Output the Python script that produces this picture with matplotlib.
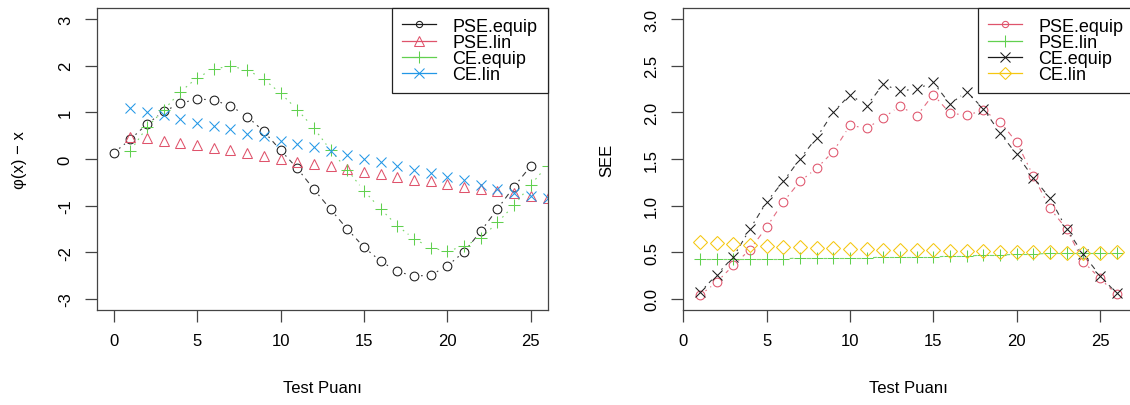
import numpy as np
import matplotlib
matplotlib.use("Agg")
import matplotlib.pyplot as plt
from matplotlib.lines import Line2D

plt.rcParams['font.family'] = ['Liberation Sans', 'DejaVu Sans']
plt.rcParams['font.size'] = 12
plt.rcParams['axes.unicode_minus'] = False

# R palette colours
BLACK = '#1a1a1a'
RED = '#DF536B'
GREEN = '#61D04F'
BLUE = '#2297E6'
YELLOW = '#F5C710'

# ---- left panel: phi(x) - x ----
score_equip_l = list(range(0, 26))
score_l = list(range(1, 27))
pse_equip_l = [0.13, 0.42, 0.75, 1.02, 1.19, 1.29, 1.26, 1.14, 0.91, 0.59, 0.19, -0.20, -0.65,
               -1.08, -1.50, -1.89, -2.19, -2.41, -2.51, -2.49, -2.29, -1.99, -1.55, -1.07, -0.59, -0.15]
pse_lin_l = [0.48, 0.44, 0.38, 0.34, 0.29, 0.24, 0.19, 0.13, 0.07, 0.01, -0.06, -0.10, -0.14,
             -0.22, -0.27, -0.32, -0.38, -0.44, -0.48, -0.54, -0.59, -0.64, -0.68, -0.73, -0.79, -0.84]
ce_equip_l = [0.18, 0.68, 1.05, 1.44, 1.74, 1.93, 1.99, 1.91, 1.71, 1.41, 1.06, 0.66, 0.19,
              -0.23, -0.68, -1.07, -1.43, -1.71, -1.90, -1.98, -1.86, -1.70, -1.36, -0.99, -0.55, -0.14]
ce_lin_l = [1.09, 1.01, 0.94, 0.86, 0.78, 0.71, 0.64, 0.54, 0.50, 0.39, 0.32, 0.25, 0.18,
            0.09, -0.01, -0.06, -0.14, -0.24, -0.31, -0.38, -0.46, -0.55, -0.64, -0.73, -0.79, -0.84]

# ---- right panel: SEE ----
score_r = list(range(1, 27))
pse_equip_r = [0.04, 0.18, 0.36, 0.53, 0.77, 1.04, 1.26, 1.40, 1.58, 1.86, 1.83, 1.94, 2.07,
               1.96, 2.19, 1.99, 1.97, 2.02, 1.90, 1.68, 1.32, 0.97, 0.75, 0.40, 0.22, 0.05]
pse_lin_r = [0.43, 0.43, 0.43, 0.43, 0.43, 0.43, 0.44, 0.44, 0.44, 0.44, 0.44, 0.45, 0.45,
             0.45, 0.45, 0.46, 0.46, 0.47, 0.47, 0.48, 0.48, 0.49, 0.49, 0.49, 0.49, 0.49]
ce_equip_r = [0.07, 0.26, 0.45, 0.75, 1.04, 1.26, 1.50, 1.73, 2.00, 2.19, 2.07, 2.30, 2.23,
              2.25, 2.32, 2.09, 2.22, 2.04, 1.78, 1.55, 1.30, 1.08, 0.75, 0.48, 0.25, 0.06]
ce_lin_r = [0.61, 0.60, 0.59, 0.58, 0.57, 0.56, 0.56, 0.55, 0.55, 0.54, 0.54, 0.53, 0.53,
            0.52, 0.52, 0.51, 0.51, 0.51, 0.50, 0.50, 0.50, 0.50, 0.49, 0.49, 0.49, 0.50]

DOTDASH = (0, (1.5, 4, 5, 4))
DOTTED = (0, (1.5, 4))
labels = ['PSE.equip', 'PSE.lin', 'CE.equip', 'CE.lin']


def draw_b(ax, x, y, color, ls, marker, ms, gap=7):
    # like R type="b": markers plus line segments that stop short of each point
    pts = ax.transData.transform(np.column_stack([x, y]))
    inv = ax.transData.inverted()
    if ls is not None:
        for p0, p1 in zip(pts[:-1], pts[1:]):
            d = p1 - p0
            L = np.hypot(*d)
            if L <= 2 * gap:
                continue
            u = d / L
            a = inv.transform(p0 + u * gap)
            b = inv.transform(p1 - u * gap)
            ax.plot([a[0], b[0]], [a[1], b[1]], color=color, ls=ls, lw=0.8, alpha=0.85)
    ax.plot(x, y, ls='none', marker=marker, ms=ms, mfc='none', mec=color, mew=0.75)


def style_axes(ax, yticks, ylabels):
    for s in ax.spines.values():
        s.set_color('#444444')
        s.set_linewidth(0.9)
    ax.tick_params(direction='out', length=8.4, width=0.9, color='#444444', pad=8)
    ax.set_yticks(yticks, labels=ylabels, rotation=90, va='center', ha='right')
    ax.tick_params(axis='y', pad=9)
    ax.set_xticks([0, 5, 10, 15, 20, 25])


def add_legend(ax, handles):
    leg = ax.legend(handles, labels, loc='upper right', bbox_to_anchor=(1, 1), borderaxespad=0,
                    fancybox=False, edgecolor='#222222', framealpha=1, fontsize=13,
                    labelspacing=-0.05, handlelength=1.9, handletextpad=0.9, borderpad=0.55)
    leg.get_frame().set_linewidth(0.9)


fig = plt.figure(figsize=(11.3, 4.06), dpi=100)
W, H = 1130, 406
bottom = (H - 311.2) / H
height = (311.2 - 8.8) / H
ax1 = fig.add_axes([97 / W, bottom, 450.5 / W, height])
ax2 = fig.add_axes([683.3 / W, bottom, 450 / W, height])

# left
ax1.set_xlim(-1, 26)
ax1.set_ylim(-3.24, 3.24)
style_axes(ax1, [-3, -2, -1, 0, 1, 2, 3], ['-3', '-2', '-1', '0', '1', '2', '3'])
draw_b(ax1, score_equip_l, pse_equip_l, BLACK, DOTDASH, 'o', 6.3)
draw_b(ax1, score_l, pse_lin_l, RED, None, '^', 7.5)
draw_b(ax1, score_l, ce_equip_l, GREEN, DOTTED, '+', 8.5)
draw_b(ax1, score_l, ce_lin_l, BLUE, None, 'x', 6.8)
ax1.set_xlabel('Test Puanı')
ax1.set_ylabel('φ(x) − x')
ax1.xaxis.set_label_coords(0.5, -0.257)
ax1.xaxis.label.set_va('center')
ax1.yaxis.set_label_coords(-0.171, 0.5)
ax1.yaxis.label.set_va('center')

add_legend(ax1, [Line2D([], [], color=BLACK, marker='o', ms=4.5, mfc='none', mew=0.75, lw=0.9),
                 Line2D([], [], color=RED, marker='^', ms=7, mfc='none', mew=0.75, lw=0.9),
                 Line2D([], [], color=GREEN, marker='+', ms=8, mew=0.75, lw=0.9),
                 Line2D([], [], color=BLUE, marker='x', ms=6.5, mew=0.75, lw=0.9)])

# right
ax2.set_xlim(0, 27)
ax2.set_ylim(-0.12, 3.12)
style_axes(ax2, [0, 0.5, 1.0, 1.5, 2.0, 2.5, 3.0], ['0.0', '0.5', '1.0', '1.5', '2.0', '2.5', '3.0'])
draw_b(ax2, score_r, pse_equip_r, RED, DOTDASH, 'o', 6.3)
draw_b(ax2, score_r, pse_lin_r, GREEN, '-', '+', 8.5)
draw_b(ax2, score_r, ce_equip_r, BLACK, DOTDASH, 'x', 6.8)
draw_b(ax2, score_r, ce_lin_r, YELLOW, None, 'D', 6.8)
ax2.set_xlabel('Test Puanı')
ax2.set_ylabel('SEE')
ax2.xaxis.set_label_coords(0.5, -0.257)
ax2.xaxis.label.set_va('center')
ax2.yaxis.set_label_coords(-0.17, 0.5)
ax2.yaxis.label.set_va('center')

add_legend(ax2, [Line2D([], [], color=RED, marker='o', ms=4.5, mfc='none', mew=0.75, lw=0.9),
                 Line2D([], [], color=GREEN, marker='+', ms=8, mew=0.75, lw=0.9),
                 Line2D([], [], color=BLACK, marker='x', ms=6.5, mew=0.75, lw=0.9),
                 Line2D([], [], color=YELLOW, marker='D', ms=6, mfc='none', mew=0.75, lw=0.9)])

fig.savefig('out.png', dpi=100)
